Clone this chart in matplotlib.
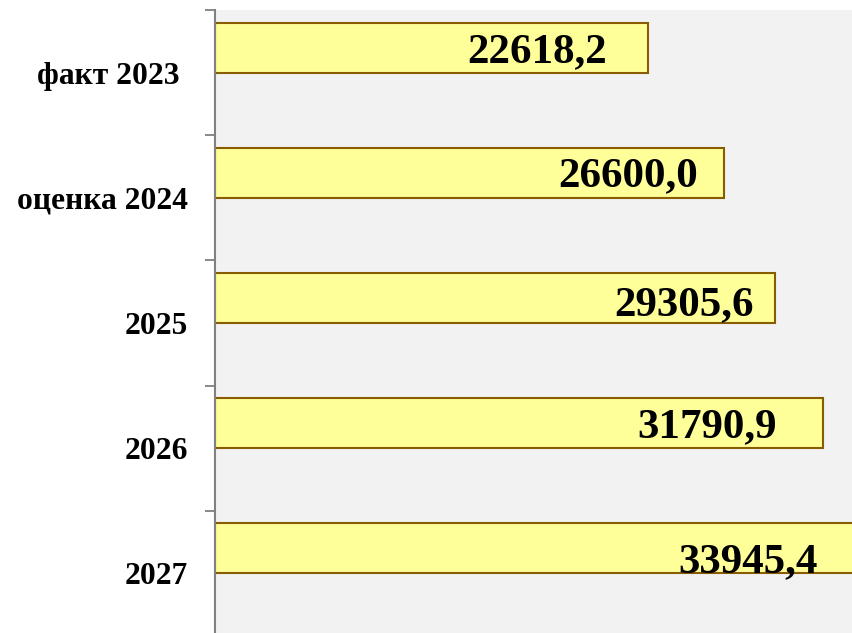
import matplotlib
matplotlib.use("Agg")
import matplotlib.pyplot as plt
import numpy as np

categories = ["факт 2023 ", "оценка 2024", "2025", "2026", "2027"]
values = [22618.2, 26600.0, 29305.6, 31790.9, 33945.4]
value_labels = ["22618,2", "26600,0", "29305,6", "31790,9", "33945,4"]

# label placement offsets in pixels (dx from bar end, dy downward)
label_dx_px = [-41, -26, -22, -46, -46]
label_dy_px = [0, -2, 2, -1, 9]

W, H, DPI = 853, 633, 100
fig = plt.figure(figsize=(W / DPI, H / DPI), dpi=DPI)
fig.patch.set_facecolor("white")

left = 215.5 / W
top = 1 - 10 / H
bottom = (H - 636) / H
ax = fig.add_axes([left, bottom, 1.003 - left, top - bottom])
ax.set_facecolor("#F2F2F2")

y = np.arange(len(categories))
ax.barh(y - 0.2, values, height=0.4, color="#FFFF99", edgecolor="#8A5C00",
        linewidth=1.5, zorder=2)

ax.set_xlim(0, 33500)
ax.set_ylim(4.5, -0.5)

for s in ["top", "right", "bottom"]:
    ax.spines[s].set_visible(False)
ax.spines["left"].set_color("#808080")
ax.spines["left"].set_linewidth(1.5)
ax.spines["left"].set_zorder(3)

ax.set_xticks([])
ax.set_yticks(y)
ax.set_yticklabels(categories, fontfamily="Liberation Serif", fontweight="bold",
                   fontsize=22.7)
ax.tick_params(axis="y", which="major", length=0, pad=20)
ax.set_yticks(np.arange(-0.5, 4.5, 1.0), minor=True)
ax.tick_params(axis="y", which="minor", length=7.2, width=1.3, color="#808080")

px2pt = 72 / DPI
for i, (v, lab) in enumerate(zip(values, value_labels)):
    ax.annotate(lab, xy=(v, i - 0.2), xytext=(label_dx_px[i] * px2pt,
                                             -(15 + label_dy_px[i]) * px2pt),
                textcoords="offset points", ha="right", va="baseline",
                fontfamily="Liberation Serif", fontweight="bold", fontsize=31,
                color="black", zorder=4, annotation_clip=False)

fig.savefig("out.png", dpi=DPI)
